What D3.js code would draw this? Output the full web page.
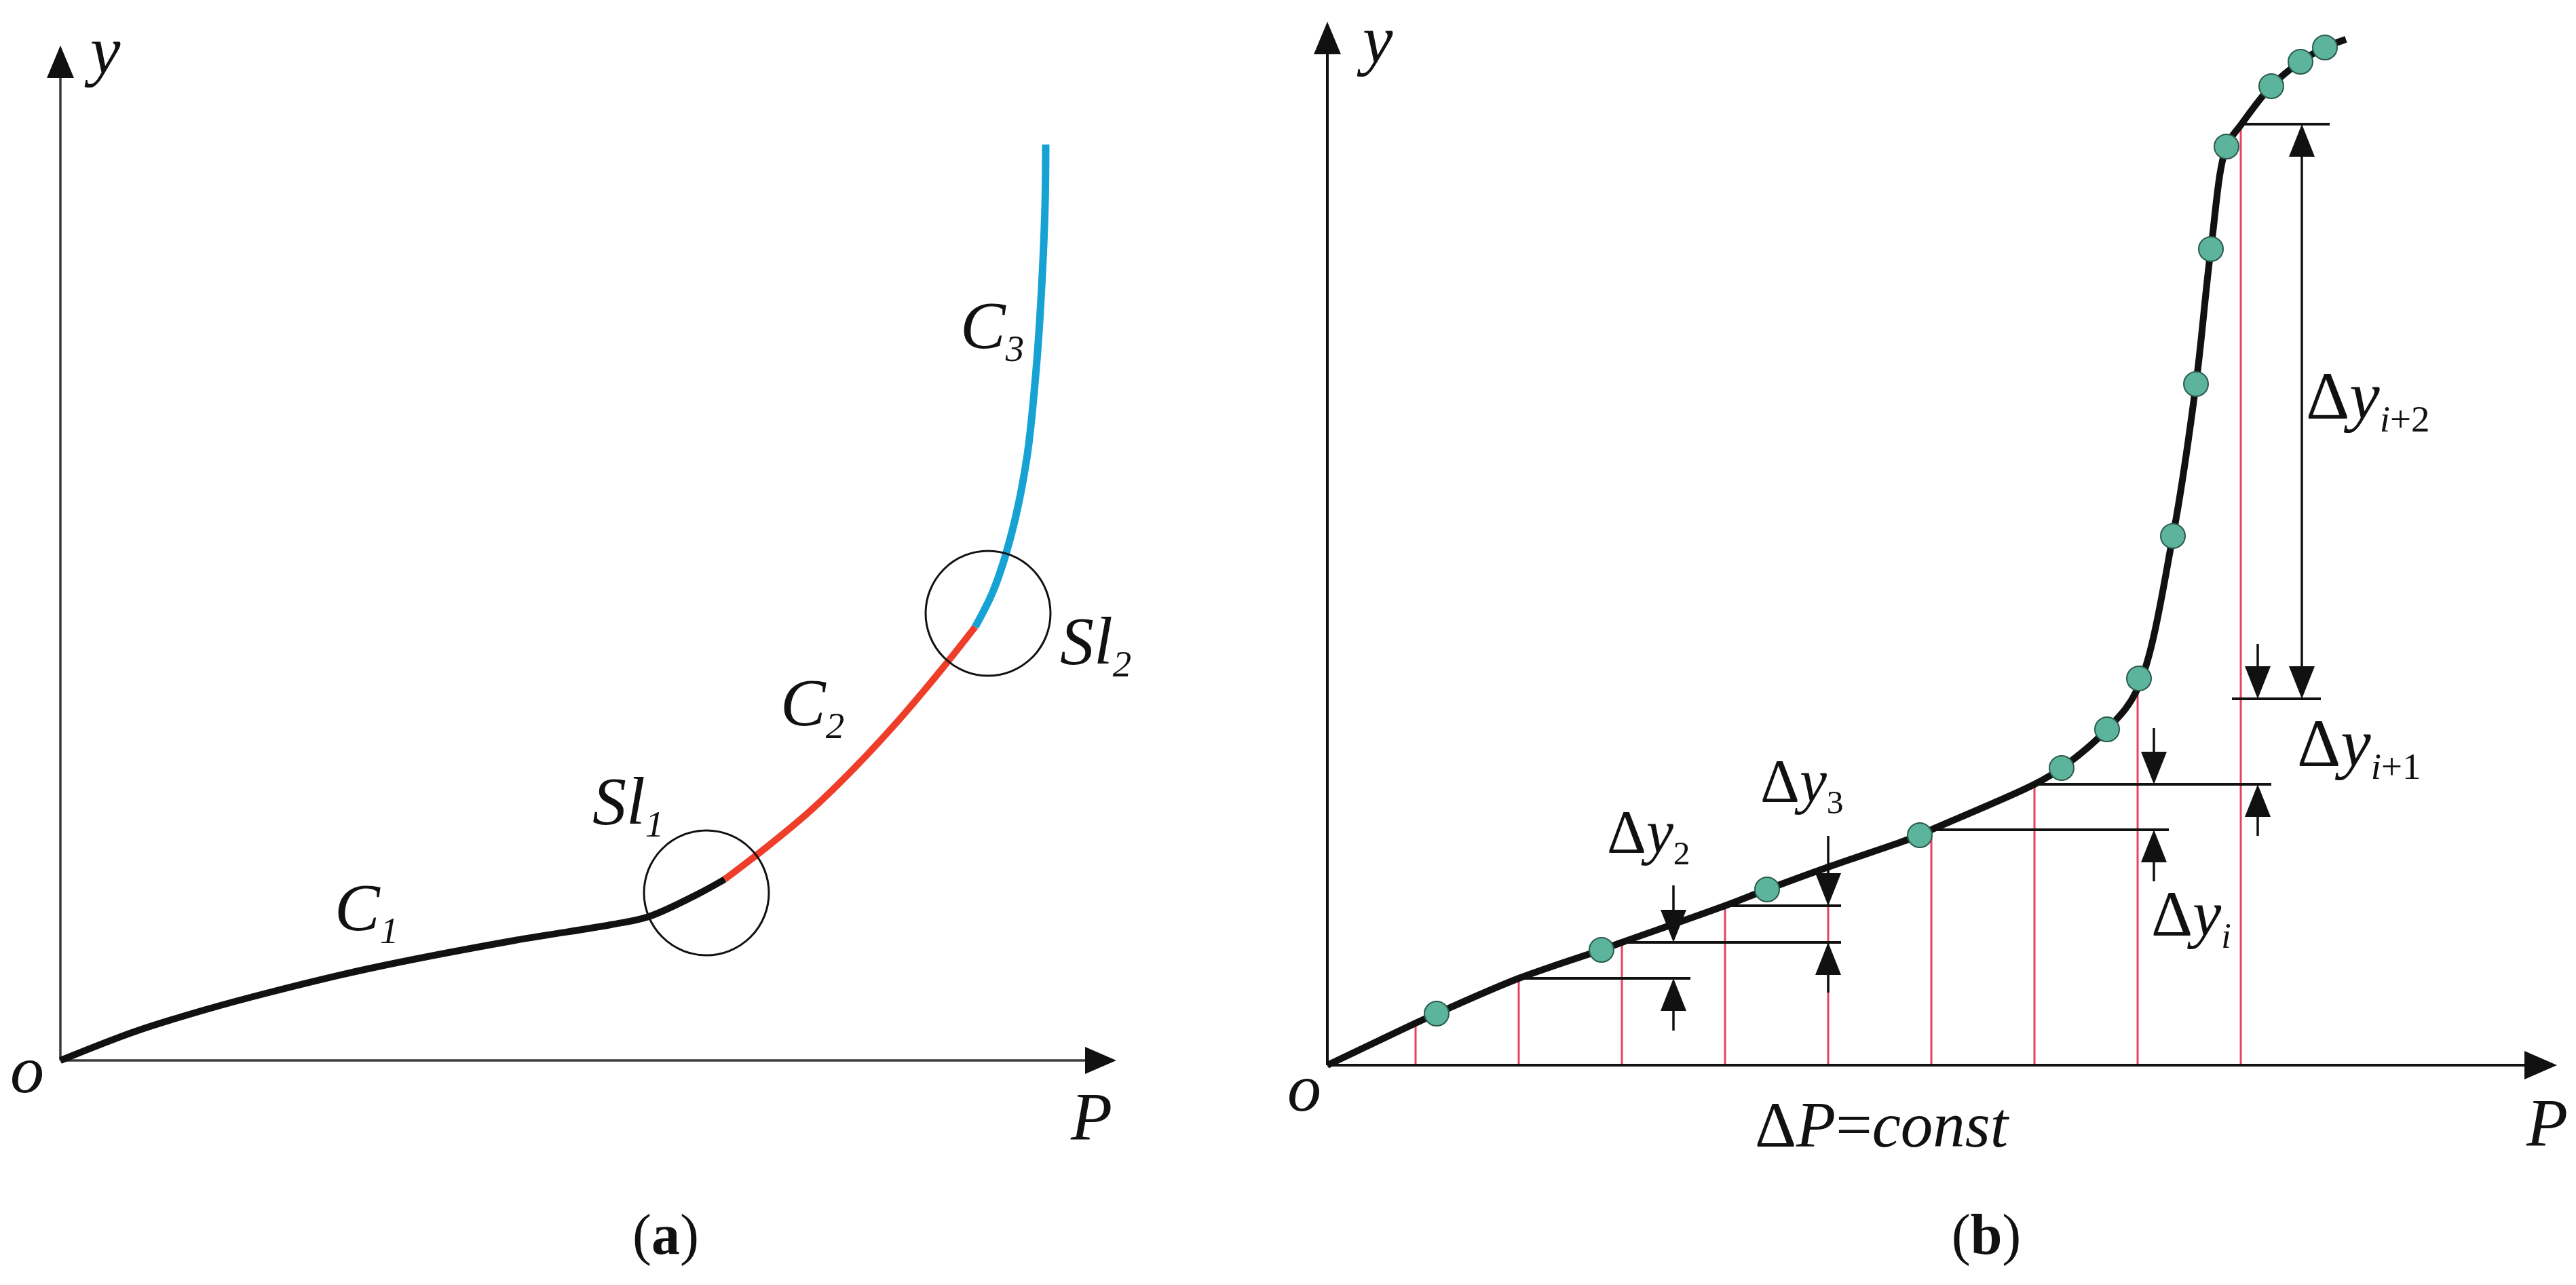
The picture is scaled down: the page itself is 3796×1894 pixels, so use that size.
<!DOCTYPE html>
<html><head><meta charset="utf-8">
<script src="https://cdn.jsdelivr.net/npm/d3@7"></script>
<style>
html,body{margin:0;padding:0;background:#fff;}
svg{display:block;}
text{font-family:"Liberation Serif","Times New Roman",serif;fill:#111;}
</style>
</head><body>
<svg id="chart" width="3796" height="1894"></svg>
<script>
// ---------- Panel (a) data (P, y in chart units) ----------
const c1P = [0, 11.1, 21.1, 31.1, 45.3, 67.0, 81.1, 86.7, 93.9, 97.9];
const c1Y = [0, 4.3, 7.4, 10.1, 13.5, 17.7, 20.0, 21.2, 24.5, 26.7];
const c2P = [97.9, 103.9, 110.4, 116.9, 123.4, 129.9, 134.8];
const c2Y = [26.7, 31.3, 36.7, 43.0, 50.0, 57.7, 63.9];
const c3P = [134.8, 137.5, 140.2, 142.4, 143.8, 144.6, 145.1, 145.2];
const c3Y = [63.9, 69.3, 77.8, 88.7, 102.0, 114.0, 126.1, 135.0];
const slNames = ["1", "2"];
const slP = [95.2, 136.7];
const slY = [24.7, 65.9];
const slR = [9.2, 9.2];

// ---------- Panel (b) data ----------
const curveP = [0, 13, 16.1, 28.2, 40.4, 43.4, 58.6, 64.8, 73.8, 87.3, 89, 104.2, 108.2, 114.9, 119.4, 124.6, 128, 130.2, 132.5, 134.7, 139.1, 143.4, 147, 150.1];
const curveY = [0, 6.2, 7.6, 12.8, 17, 18.1, 23.5, 25.9, 29.2, 33.9, 34.7, 41.4, 43.8, 49.5, 55.5, 78, 100.4, 120.3, 135.4, 138.7, 144.3, 147.9, 150, 151.2];
const dotP = [16.1, 40.4, 64.8, 87.3, 108.2, 114.9, 119.6, 124.6, 128, 130.2, 132.5, 139.1, 143.4, 147];
const dotY = [7.6, 17, 25.9, 33.9, 43.8, 49.5, 57, 78, 100.4, 120.3, 135.4, 144.3, 147.9, 150];
const redP = [13, 28.2, 43.4, 58.6, 73.8, 89, 104.2, 119.4, 134.6];
const redTop = [6.2, 12.8, 18.1, 23.5, 29.2, 34.7, 41.4, 55.5, 138.7];
const levelY = [12.8, 18.1, 23.5, 34.7, 41.4, 54, 138.7];
const levelP0 = [28.2, 43.4, 58.6, 89, 104.2, 133.3, 134.6];
const levelP1 = [53.5, 75.7, 75.7, 124, 139.1, 146.4, 147.7];
const arrowP = [51, 51, 73.8, 73.8, 121.8, 121.8, 137.1, 137.1, 143.6, 143.6];
const arrowFrom = [26.5, 5.1, 33.8, 10.7, 49.7, 27.1, 62.1, 33.8, 96, 96];
const arrowTo = [18.1, 12.8, 23.5, 18.1, 41.4, 34.7, 54, 41.4, 138.7, 54];

const FONT = "'Liberation Serif', 'Times New Roman', serif";
const svg = d3.select("#chart");
svg.append("rect").attr("width", 3796).attr("height", 1894).attr("fill", "#fff");

// scales (10 px per unit)
const sxA = d3.scaleLinear().domain([0, 155.6]).range([89, 1645]);
const syA = d3.scaleLinear().domain([0, 149.6]).range([1563, 67]);
const sxB = d3.scaleLinear().domain([0, 181.2]).range([1956, 3768]);
const syB = d3.scaleLinear().domain([0, 153.8]).range([1570, 32]);

function arrowHead(g, x, y, dir, len, hw, color) {
  let p;
  if (dir === "up") p = [[x, y], [x - hw, y + len], [x + hw, y + len]];
  else if (dir === "down") p = [[x, y], [x - hw, y - len], [x + hw, y - len]];
  else p = [[x, y], [x - len, y - hw], [x - len, y + hw]];
  g.append("path").attr("d", "M" + p.map(d => d.join(",")).join("L") + "Z").attr("fill", color);
}

function rich(g, x, y, parts, size, anchor) {
  const t = g.append("text").attr("x", x).attr("y", y).attr("font-size", size)
    .attr("font-family", FONT).attr("text-anchor", anchor || "start");
  let inSub = false;
  parts.forEach(p => {
    const ts = t.append("tspan").text(p.t);
    if (p.i) ts.attr("font-style", "italic");
    if (p.b) ts.attr("font-weight", "bold");
    if (p.s) {
      ts.attr("font-size", size * 0.55);
      if (!inSub) { ts.attr("dy", size * 0.19); inSub = true; }
    } else if (inSub) { ts.attr("dy", -size * 0.19); inSub = false; }
  });
  return t;
}

// ================= Panel (a) =================
const gA = svg.append("g");
const axA = "#3a3a3a";
gA.append("line").attr("x1", sxA(0)).attr("y1", syA(0)).attr("x2", sxA(0)).attr("y2", syA(149.6) + 40)
  .attr("stroke", axA).attr("stroke-width", 3.5);
arrowHead(gA, sxA(0), syA(149.6), "up", 48, 20, "#111");
gA.append("line").attr("x1", sxA(0)).attr("y1", syA(0)).attr("x2", sxA(155.6) - 40).attr("y2", syA(0))
  .attr("stroke", axA).attr("stroke-width", 3.5);
arrowHead(gA, sxA(155.6), syA(0), "right", 46, 20, "#111");

const lineA = d3.line().x(d => sxA(d[0])).y(d => syA(d[1])).curve(d3.curveCatmullRom.alpha(0.5));
const segs = [[c1P, c1Y, "#111111", 10], [c2P, c2Y, "#ee3e2a", 10], [c3P, c3Y, "#17a2d4", 11]];
segs.forEach(([P, Y, col, w]) => {
  gA.append("path").attr("d", lineA(P.map((p, i) => [p, Y[i]])))
    .attr("fill", "none").attr("stroke", col).attr("stroke-width", w).attr("stroke-linecap", "butt");
});
slP.forEach((p, i) => {
  gA.append("circle").attr("cx", sxA(p)).attr("cy", syA(slY[i])).attr("r", sxA(slR[i]) - sxA(0))
    .attr("fill", "none").attr("stroke", "#111").attr("stroke-width", 3);
});
rich(gA, sxA(4.4), syA(145.5), [{t: "y", i: true}], 100);
rich(gA, sxA(-7.4), syA(-4.7), [{t: "o", i: true}], 100);
rich(gA, sxA(148.9), syA(-11.6), [{t: "P", i: true}], 100);
rich(gA, sxA(40.4), syA(19.2), [{t: "C", i: true}, {t: "1", i: true, s: true}], 100);
rich(gA, sxA(106.1), syA(49.4), [{t: "C", i: true}, {t: "2", i: true, s: true}], 100);
rich(gA, sxA(132.6), syA(105), [{t: "C", i: true}, {t: "3", i: true, s: true}], 100);
rich(gA, sxA(78.4), syA(34.9), [{t: "Sl", i: true}, {t: slNames[0], i: true, s: true}], 100);
rich(gA, sxA(147.3), syA(58.5), [{t: "Sl", i: true}, {t: slNames[1], i: true, s: true}], 100);
rich(gA, sxA(89.2), syA(-28.5), [{t: "("}, {t: "a", b: true}, {t: ")"}], 84, "middle");

// ================= Panel (b) =================
const gB = svg.append("g");
redP.forEach((p, i) => {
  gB.append("line").attr("x1", sxB(p)).attr("x2", sxB(p)).attr("y1", syB(0)).attr("y2", syB(redTop[i]))
    .attr("stroke", "#e8435e").attr("stroke-width", 3);
});
gB.append("line").attr("x1", sxB(0)).attr("y1", syB(0)).attr("x2", sxB(0)).attr("y2", syB(153.8) + 40)
  .attr("stroke", "#111").attr("stroke-width", 4);
arrowHead(gB, sxB(0), syB(153.8), "up", 48, 20, "#111");
gB.append("line").attr("x1", sxB(0)).attr("y1", syB(0)).attr("x2", sxB(181.2) - 40).attr("y2", syB(0))
  .attr("stroke", "#111").attr("stroke-width", 4);
arrowHead(gB, sxB(181.2), syB(0), "right", 48, 21, "#111");
levelY.forEach((y, i) => {
  gB.append("line").attr("x1", sxB(levelP0[i])).attr("x2", sxB(levelP1[i])).attr("y1", syB(y)).attr("y2", syB(y))
    .attr("stroke", "#111").attr("stroke-width", 4);
});
arrowP.forEach((p, i) => {
  const x = sxB(p), y0 = syB(arrowFrom[i]), y1 = syB(arrowTo[i]);
  const dir = y1 < y0 ? "up" : "down";
  const tipOffset = dir === "up" ? 40 : -40;
  gB.append("line").attr("x1", x).attr("x2", x).attr("y1", y0).attr("y2", y1 + tipOffset)
    .attr("stroke", "#111").attr("stroke-width", 3.5);
  arrowHead(gB, x, y1, dir, 48, 19, "#111");
});
const lineB = d3.line().x(d => sxB(d[0])).y(d => syB(d[1])).curve(d3.curveCatmullRom.alpha(0.5));
gB.append("path").attr("d", lineB(curveP.map((p, i) => [p, curveY[i]])))
  .attr("fill", "none").attr("stroke", "#111").attr("stroke-width", 10);
dotP.forEach((p, i) => {
  gB.append("circle").attr("cx", sxB(p)).attr("cy", syB(dotY[i])).attr("r", 18)
    .attr("fill", "#5cb49c").attr("stroke", "#2b5a4c").attr("stroke-width", 2);
});
rich(gB, sxB(5.2), syB(147.8), [{t: "y", i: true}], 100);
rich(gB, sxB(-5.9), syB(-6.7), [{t: "o", i: true}], 100);
rich(gB, sxB(176.7), syB(-11.8), [{t: "P", i: true}], 100);
rich(gB, sxB(41.2), syB(31.3), [{t: "Δ"}, {t: "y", i: true}, {t: "2", s: true}], 90);
rich(gB, sxB(63.8), syB(38.8), [{t: "Δ"}, {t: "y", i: true}, {t: "3", s: true}], 90);
rich(gB, sxB(121.4), syB(19.1), [{t: "Δ"}, {t: "y", i: true}, {t: "i", i: true, s: true}], 95);
rich(gB, sxB(142.9), syB(44.1), [{t: "Δ"}, {t: "y", i: true}, {t: "i", i: true, s: true}, {t: "+1", s: true}], 100);
rich(gB, sxB(144.2), syB(95.3), [{t: "Δ"}, {t: "y", i: true}, {t: "i", i: true, s: true}, {t: "+2", s: true}], 100);
rich(gB, sxB(63), syB(-12), [{t: "Δ"}, {t: "P", i: true}, {t: "="}, {t: "const", i: true}], 95);
rich(gB, sxB(97.1), syB(-27.8), [{t: "("}, {t: "b", b: true}, {t: ")"}], 84, "middle");
</script>
</body></html>
